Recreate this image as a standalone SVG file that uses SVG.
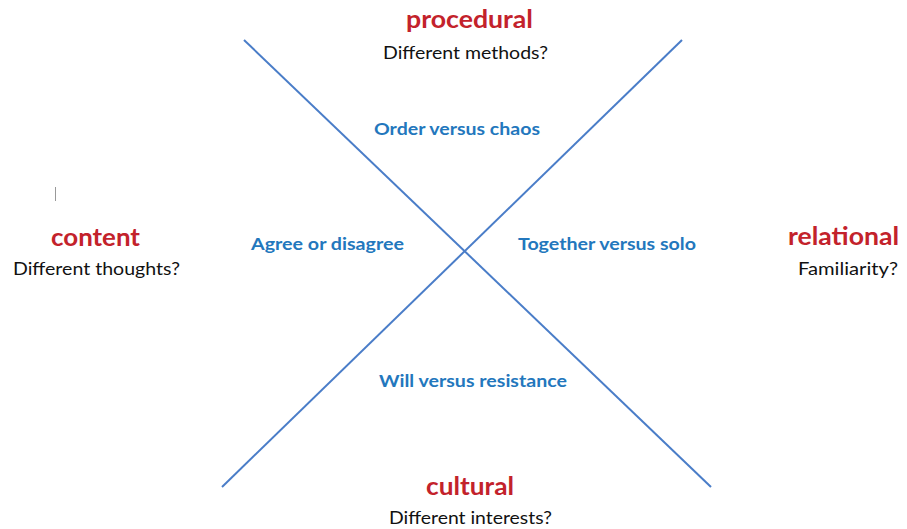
<svg xmlns="http://www.w3.org/2000/svg" width="907" height="529" viewBox="0 0 907 529">
<style>
.title{font-family:Lato,"Open Sans","Liberation Sans",sans-serif;font-weight:bold;font-size:25px;fill:#C3222B;text-anchor:middle}
.sub{font-family:Lato,"Open Sans","Liberation Sans",sans-serif;font-size:18px;fill:#111;text-anchor:middle}
.lab{font-family:Lato,"Open Sans","Liberation Sans",sans-serif;font-weight:bold;font-size:17px;fill:#2377BD;text-anchor:middle}
.ax{stroke:#4A7DC8;stroke-width:2;fill:none}
</style>
<rect width="907" height="529" fill="#fff"/>
<g id="connectors">
<line class="ax" x1="244" y1="40" x2="711" y2="487"/>
<line class="ax" x1="682" y1="40" x2="222" y2="487"/>
</g>
<line x1="55.5" y1="187" x2="55.5" y2="201" stroke="#999" stroke-width="1"/>
<g id="procedural">
<text class="title" x="469.5" y="28" textLength="127" lengthAdjust="spacingAndGlyphs">procedural</text>
<text class="sub" x="465.5" y="59" textLength="165" lengthAdjust="spacingAndGlyphs">Different methods?</text>
</g>
<g id="content">
<text class="title" x="95.5" y="246" textLength="89" lengthAdjust="spacingAndGlyphs">content</text>
<text class="sub" x="96.5" y="275" textLength="167" lengthAdjust="spacingAndGlyphs">Different thoughts?</text>
</g>
<g id="relational">
<text class="title" x="843.5" y="245" textLength="111" lengthAdjust="spacingAndGlyphs">relational</text>
<text class="sub" x="848" y="275" textLength="100" lengthAdjust="spacingAndGlyphs">Familiarity?</text>
</g>
<g id="cultural">
<text class="title" x="470" y="495" textLength="88" lengthAdjust="spacingAndGlyphs">cultural</text>
<text class="sub" x="470.5" y="524" textLength="163" lengthAdjust="spacingAndGlyphs">Different interests?</text>
</g>
<g id="order">
<text class="lab" x="457" y="135" textLength="166" lengthAdjust="spacingAndGlyphs">Order versus chaos</text>
</g>
<g id="agree">
<text class="lab" x="327.5" y="250" textLength="153" lengthAdjust="spacingAndGlyphs">Agree or disagree</text>
</g>
<g id="together">
<text class="lab" x="607" y="250" textLength="178" lengthAdjust="spacingAndGlyphs">Together versus solo</text>
</g>
<g id="will">
<text class="lab" x="473" y="387" textLength="188" lengthAdjust="spacingAndGlyphs">Will versus resistance</text>
</g>
</svg>
